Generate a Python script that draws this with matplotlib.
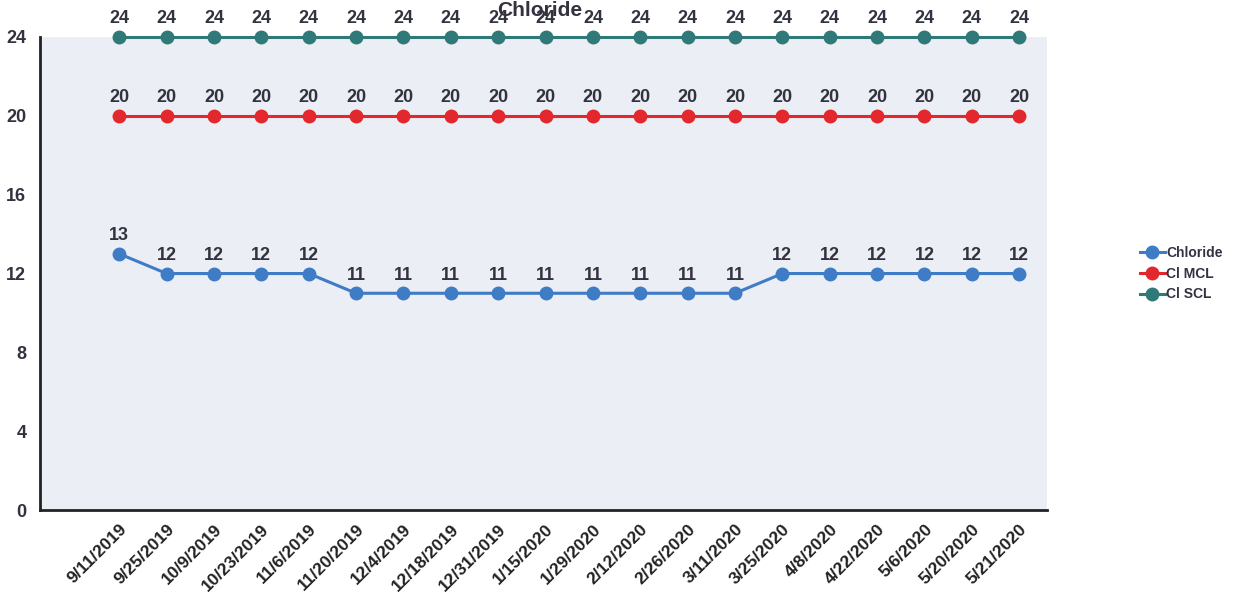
import matplotlib.pyplot as plt
import numpy as np

plt.rcParams['font.family'] = ['Liberation Sans', 'DejaVu Sans']

dates = ["9/11/2019", "9/25/2019", "10/9/2019", "10/23/2019", "11/6/2019", "11/20/2019",
         "12/4/2019", "12/18/2019", "12/31/2019", "1/15/2020", "1/29/2020", "2/12/2020",
         "2/26/2020", "3/11/2020", "3/25/2020", "4/8/2020", "4/22/2020", "5/6/2020",
         "5/20/2020", "5/21/2020"]
chloride = [13, 12, 12, 12, 12, 11, 11, 11, 11, 11, 11, 11, 11, 11, 12, 12, 12, 12, 12, 12]
cl_mcl = [20] * 20
cl_scl = [24] * 20

series = [
    ("Chloride", chloride, "#3f7cc6"),
    ("Cl MCL", cl_mcl, "#e2282c"),
    ("Cl SCL", cl_scl, "#2f7a78"),
]

fig = plt.figure(figsize=(12.55, 6.14), dpi=100)
ax = fig.add_axes([0.032, 0.169, 0.802, 0.771])
ax.set_facecolor("#eceef5")

x = np.arange(len(dates))
for name, vals, col in series:
    ax.plot(x, vals, color=col, linewidth=2.2, marker="o", markersize=9, label=name,
            clip_on=False, zorder=3)
    for xi, v in zip(x, vals):
        ax.annotate(str(v), (xi, v), xytext=(0, 7), textcoords="offset points",
                    ha="center", va="bottom", fontsize=13, fontweight="bold", color="#333340")

ax.set_xlim(-1.67, 19.58)
ax.set_ylim(0, 24)
ax.set_yticks(range(0, 25, 4))
ax.set_xticks(x)
ax.set_xticklabels(dates, rotation=45, ha="right", rotation_mode="anchor",
                   fontsize=12.5, fontweight="bold", color="#222222")
for lbl in ax.get_yticklabels():
    lbl.set_fontweight("bold")
    lbl.set_fontsize(13)
    lbl.set_color("#333340")
ax.tick_params(axis="both", length=0)
ax.tick_params(axis="y", pad=10)
ax.tick_params(axis="x", pad=8)

for side in ["top", "right"]:
    ax.spines[side].set_visible(False)
ax.spines["left"].set_linewidth(2)
ax.spines["bottom"].set_linewidth(2)
ax.spines["left"].set_color("#222222")
ax.spines["bottom"].set_color("#222222")

fig.text(0.43, 0.999, "Chloride", ha="center", va="top", fontsize=15,
         fontweight="bold", color="#333340")

leg = ax.legend(loc="center left", bbox_to_anchor=(1.08, 0.5), frameon=False,
                prop={"size": 10, "weight": "bold"}, handlelength=1.8, handletextpad=0.1,
                labelspacing=0.5)
for t in leg.get_texts():
    t.set_color("#333344")

fig.savefig("out.png", dpi=100)
